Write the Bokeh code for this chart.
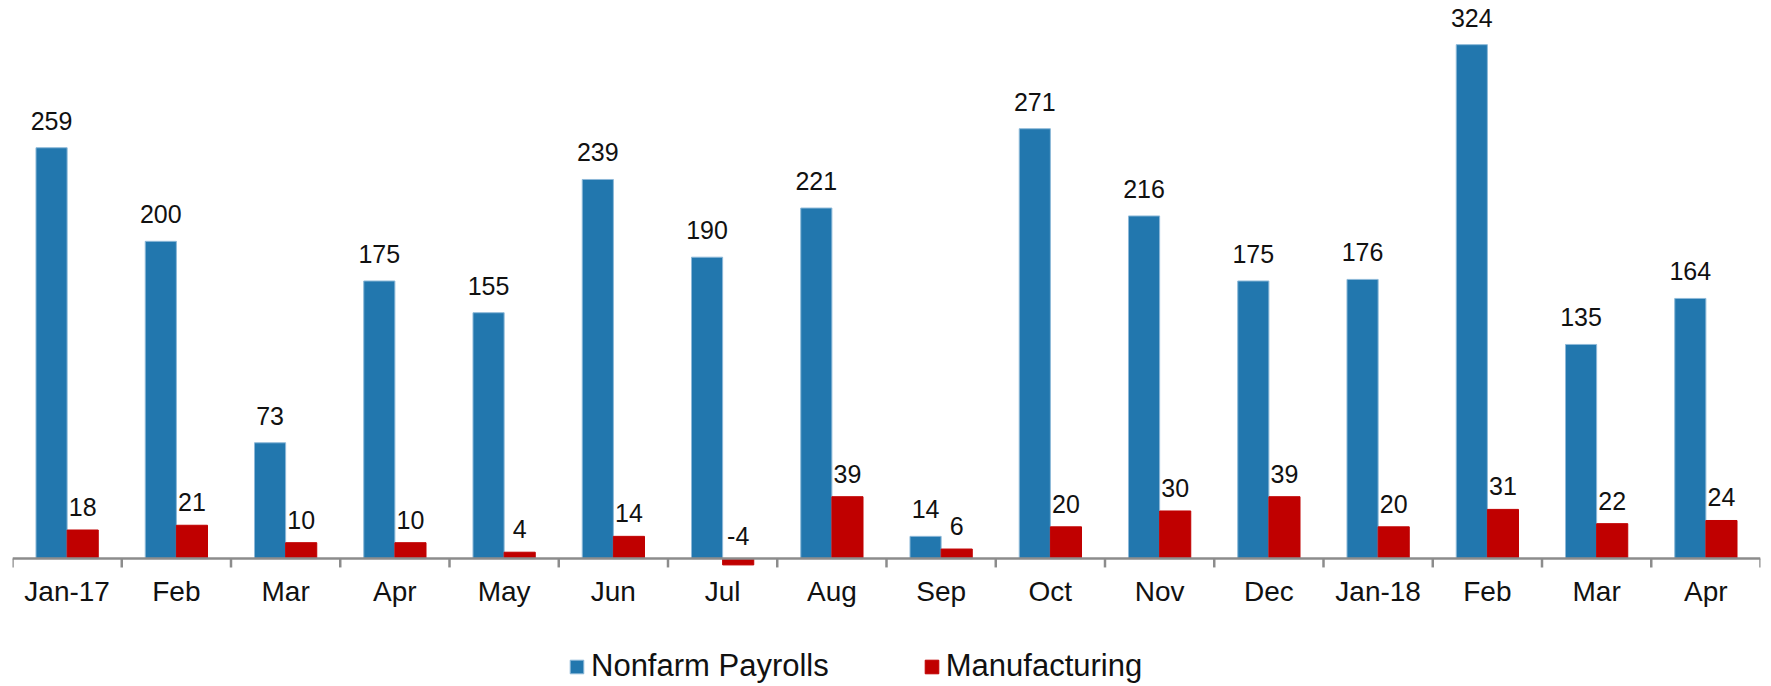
from bokeh.plotting import figure
from bokeh.models import (ColumnDataSource, Range1d, Span, LabelSet,
                          Legend, LegendItem)
from bokeh.core.properties import value
from bokeh.transform import dodge
from bokeh.embed import file_html
from bokeh.resources import INLINE

months = ["Jan-17", "Feb", "Mar", "Apr", "May", "Jun", "Jul", "Aug", "Sep", "Oct",
          "Nov", "Dec", "Jan-18", "Feb", "Mar", "Apr"]
nonfarm = [259, 200, 73, 175, 155, 239, 190, 221, 14, 271, 216, 175, 176, 324, 135, 164]
manufacturing = [18, 21, 10, 10, 4, 14, -4, 39, 6, 20, 30, 39, 20, 31, 22, 24]

BLUE = "#2277AE"
RED = "#C00000"
AXIS = "#8C8C8C"
FONT = "Liberation Sans"

n = len(months)
idx = list(range(n))
src = ColumnDataSource(dict(
    x=idx,
    month=months,
    zero=[0] * n,
    nf=nonfarm,
    mf=manufacturing,
    nf_lbl=[str(v) for v in nonfarm],
    mf_lbl=[str(v) for v in manufacturing],
    mf_pos=[max(v, 0) for v in manufacturing],
))

p = figure(width=1764, height=684, output_backend="svg", toolbar_location=None,
           x_range=Range1d(-0.5, n - 0.5), y_range=Range1d(-79.4, 346.8),
           min_border_left=12, min_border_right=4, min_border_top=8,
           min_border_bottom=0)
p.outline_line_color = None
p.xgrid.visible = False
p.ygrid.visible = False
p.xaxis.visible = False
p.yaxis.visible = False

off = 0.1425
w = 0.285
r1 = p.vbar(x=dodge("x", -off), top="nf", bottom=0, width=w, source=src,
            fill_color=BLUE, line_color="#8DB9D8", line_width=1)
r2 = p.vbar(x=dodge("x", off), top="mf", bottom=0, width=w, source=src,
            fill_color=RED, line_color=RED, line_width=1)

# axis line at zero and category-boundary ticks
p.add_layout(Span(location=0, dimension="width", line_color=AXIS, line_width=2.5))
bounds = [i - 0.5 for i in range(n + 1)]
p.segment(x0=bounds, x1=bounds, y0=[0] * len(bounds), y1=[-5.6] * len(bounds),
          line_color=AXIS, line_width=2.5)

# category labels under the axis
p.add_layout(LabelSet(x="x", y="zero", text="month", source=src,
                      text_align="center", text_baseline="middle", y_offset=-33,
                      text_font=value(FONT), text_font_size=value("28px"),
                      text_color="#111111"))

# data labels
p.add_layout(LabelSet(x=dodge("x", -off), y="nf", text="nf_lbl", source=src,
                      text_align="center", text_baseline="alphabetic", y_offset=18,
                      text_font=value(FONT), text_font_size=value("25px"),
                      text_color="#111111"))
p.add_layout(LabelSet(x=dodge("x", off), y="mf_pos", text="mf_lbl", source=src,
                      text_align="center", text_baseline="alphabetic", y_offset=14,
                      text_font=value(FONT), text_font_size=value("25px"),
                      text_color="#111111"))

legend = Legend(items=[LegendItem(label="Nonfarm Payrolls", renderers=[r1]),
                       LegendItem(label="Manufacturing", renderers=[r2])],
                orientation="horizontal", location=(556, 0),
                glyph_width=17, glyph_height=17, label_standoff=6, spacing=94,
                label_text_font=FONT, label_text_font_size="31px",
                label_text_color="#111111", border_line_color=None,
                background_fill_alpha=0, padding=0, margin=0)
p.add_layout(legend, "center")

open("out.html", "w").write(file_html(p, INLINE))
